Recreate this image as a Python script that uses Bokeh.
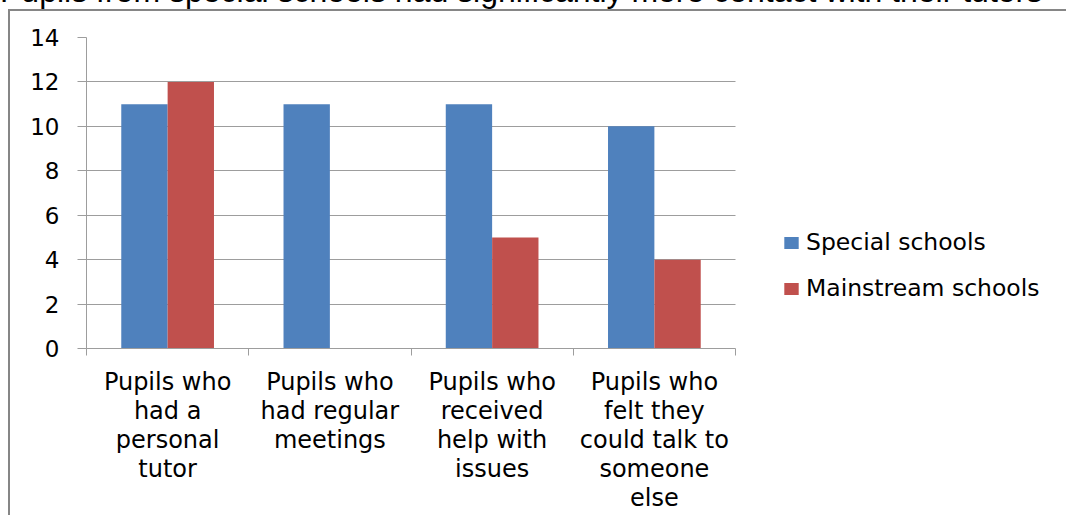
from bokeh.plotting import figure
from bokeh.layouts import column
from bokeh.models import (Range1d, FixedTicker, Legend, LegendItem, Div,
                          ColumnDataSource, Grid)
from bokeh.transform import dodge
from bokeh.embed import file_html
from bokeh.resources import INLINE

# ---- data ----
title_text = "Pupils from special schools had significantly more contact with their tutors"
categories = [
    "Pupils who\nhad a\npersonal\ntutor",
    "Pupils who\nhad regular\nmeetings",
    "Pupils who\nreceived\nhelp with\nissues",
    "Pupils who\nfelt they\ncould talk to\nsomeone\nelse",
]
special = [11, 11, 11, 10]
mainstream = [12, 0, 5, 4]
series_names = ["Special schools", "Mainstream schools"]
y_ticks = [0, 2, 4, 6, 8, 10, 12, 14]

BLUE = "#4F81BD"
RED = "#C0504D"
GRID = "#9d9d9d"
BORDER = "#868686"
FONT = "DejaVu Sans"

# layout (pixels)
CANVAS_W, CANVAS_H = 1058, 506
LEFT, TOP, BOTTOM = 76, 26, 169
PLOT_W = 649                      # width of the bar area
FRAME_W = CANVAS_W - LEFT         # frame runs to the right edge (legend lives in it)

n = len(categories)
centers = [i + 0.5 for i in range(n)]
src = ColumnDataSource(dict(x=centers, special=special, mainstream=mainstream))

p = figure(width=CANVAS_W, height=CANVAS_H, output_backend="svg",
           toolbar_location=None,
           x_range=Range1d(0, n * FRAME_W / PLOT_W), y_range=Range1d(0, 14),
           min_border_left=LEFT, min_border_right=0, min_border_top=TOP,
           min_border_bottom=BOTTOM,
           margin=(0, 0, 0, 8),
           styles={"border-top": f"2px solid {BORDER}",
                   "border-left": f"2px solid {BORDER}"})
p.outline_line_color = None

bw = 1 / 3.5
r1 = p.vbar(x=dodge("x", -bw / 2), top="special", width=bw, source=src,
            fill_color=BLUE, line_color=None)
r2 = p.vbar(x=dodge("x", bw / 2), top="mainstream", width=bw, source=src,
            fill_color=RED, line_color=None)

xa = p.xaxis[0]
xa.bounds = (0, n)
xa.ticker = FixedTicker(ticks=centers, minor_ticks=list(range(n + 1)))
xa.major_label_overrides = {c: lab for c, lab in zip(centers, categories)}
xa.major_tick_out = 0
xa.major_tick_in = 0
xa.minor_tick_out = 7
xa.minor_tick_in = 0
xa.minor_tick_line_color = GRID
xa.axis_line_color = GRID
xa.major_label_standoff = 12
xa.major_label_text_font = FONT
xa.major_label_text_font_size = "24px"
xa.major_label_text_color = "#000000"
xa.major_label_text_line_height = 1.04

ya = p.yaxis[0]
ya.ticker = FixedTicker(ticks=y_ticks)
ya.major_tick_out = 9
ya.major_tick_in = 0
ya.minor_tick_line_color = None
ya.major_tick_line_color = GRID
ya.axis_line_color = GRID
ya.major_label_standoff = 18
ya.major_label_text_font = FONT
ya.major_label_text_font_size = "23px"
ya.major_label_text_color = "#000000"

p.xgrid.grid_line_color = None
yg = p.ygrid[0]
yg.ticker = FixedTicker(ticks=y_ticks)
if "cross_bounds" in Grid.properties():
    yg.grid_line_color = GRID
    yg.cross_bounds = (0, n)
else:
    yg.grid_line_color = None
    p.segment(x0=0, x1=n, y0=y_ticks, y1=y_ticks, line_color=GRID, line_width=1)

legend = Legend(items=[LegendItem(label=series_names[0], renderers=[r1]),
                       LegendItem(label=series_names[1], renderers=[r2])],
                location=(PLOT_W + 47, 46), border_line_color=None,
                padding=0, margin=0,
                background_fill_alpha=0, glyph_width=18, glyph_height=15,
                label_text_font=FONT, label_text_font_size="23.5px",
                label_height=26, label_text_color="#000000",
                spacing=18, label_standoff=6)
p.add_layout(legend)

title = Div(
    text=("<div style=\"position:relative; top:-25px; left:0px; "
          "font-family:'Liberation Sans'; font-size:32px; line-height:32px; "
          "white-space:nowrap; color:#000;\">" + title_text + "</div>"),
    width=1068, height=9, margin=0, styles={"overflow": "visible"})

layout = column(title, p, spacing=0)

open("out.html", "w").write(file_html(layout, INLINE))
